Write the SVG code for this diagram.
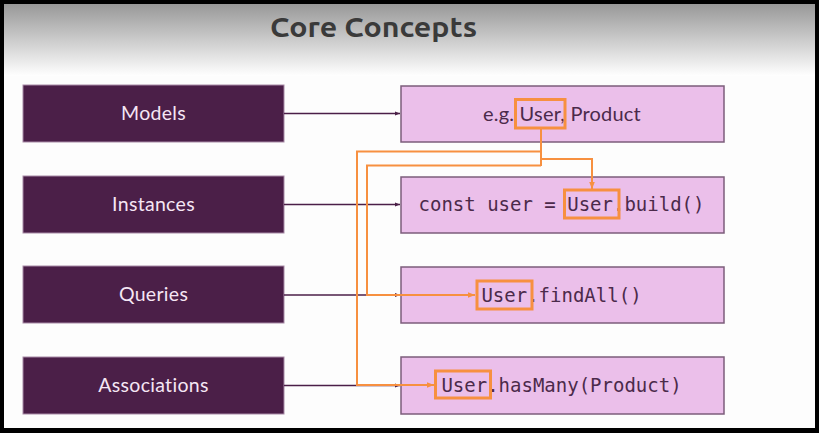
<svg xmlns="http://www.w3.org/2000/svg" width="819" height="433" viewBox="0 0 819 433">
  <defs>
    <linearGradient id="hdr" x1="0" y1="0" x2="0" y2="1">
      <stop offset="0" stop-color="#989898"/>
      <stop offset="1" stop-color="#ffffff"/>
    </linearGradient>
    <marker id="arrD" viewBox="0 0 10 10" refX="10" refY="5" markerWidth="5" markerHeight="5" orient="auto" markerUnits="userSpaceOnUse">
      <path d="M0,1 L10,5 L0,9 z" fill="#4a1f47"/>
    </marker>
    <marker id="arrO" viewBox="0 0 10 10" refX="10" refY="5" markerWidth="7" markerHeight="7" orient="auto" markerUnits="userSpaceOnUse">
      <path d="M0,1 L10,5 L0,9 z" fill="#f79040"/>
    </marker>
    <style>
      .left rect { fill: #4b1f48; stroke: #a88aa6; stroke-width: 1; }
      .left text { fill: #f5e6f4; font-family: Lato, "Open Sans", sans-serif; font-size: 19.5px; letter-spacing: 0.3px; text-anchor: middle; }
      .right rect.box { fill: #ebbfea; stroke: #7c5d7b; stroke-width: 1.5; }
      .right text { fill: #4b2a4a; text-anchor: middle; }
      .code { font-family: "DejaVu Sans Mono", monospace; font-size: 19px; }
      .sans { font-family: Lato, "Open Sans", sans-serif; font-size: 20px; letter-spacing: 0.2px; }
      .hl { fill: none; stroke: #f79040; stroke-width: 3; }
      .dark { fill: none; stroke: #4b1f48; stroke-width: 1.6; marker-end: url(#arrD); }
      .orange { fill: none; stroke: #f79040; stroke-width: 2; }
      .orange.a { marker-end: url(#arrO); }
    </style>
  </defs>

  <rect x="0" y="0" width="819" height="433" fill="#000"/>
  <rect x="4" y="4" width="811" height="424" fill="#fdfdfd"/>
  <rect x="4" y="4" width="811" height="72" fill="url(#hdr)"/>

  <text x="373.5" y="37" font-family="Ubuntu, 'Open Sans', sans-serif" font-weight="bold" font-size="28" fill="#3a3a3a" text-anchor="middle" textLength="207" lengthAdjust="spacingAndGlyphs">Core Concepts</text>

  <g id="models" class="left">
    <rect x="23" y="85" width="261" height="57"/>
    <text x="153.5" y="120">Models</text>
  </g>
  <g id="instances" class="left">
    <rect x="23" y="176" width="261" height="57"/>
    <text x="153.5" y="211">Instances</text>
  </g>
  <g id="queries" class="left">
    <rect x="23" y="266" width="261" height="57"/>
    <text x="153.5" y="301">Queries</text>
  </g>
  <g id="associations" class="left">
    <rect x="23" y="357" width="261" height="57"/>
    <text x="153.5" y="392">Associations</text>
  </g>

  <g id="models-example" class="right">
    <rect class="box" x="401" y="86" width="323" height="56"/>
    <text class="sans" x="562" y="121">e.g. User, Product</text>
  </g>
  <g id="instances-example" class="right">
    <rect class="box" x="401" y="177" width="323" height="56"/>
    <text class="code" x="561.5" y="211">const user = User.build()</text>
  </g>
  <g id="queries-example" class="right">
    <rect class="box" x="401" y="267" width="323" height="56"/>
    <text class="code" x="561.5" y="302">User.findAll()</text>
  </g>
  <g id="associations-example" class="right">
    <rect class="box" x="401" y="357" width="323" height="57"/>
    <text class="code" x="561.5" y="392">User.hasMany(Product)</text>
  </g>

  <g id="connectors">
    <line class="dark" x1="284" y1="113.5" x2="400" y2="113.5"/>
    <line class="dark" x1="284" y1="204.5" x2="400" y2="204.5"/>
    <line class="dark" x1="284" y1="295" x2="400" y2="295"/>
    <line class="dark" x1="284" y1="385.5" x2="400" y2="385.5"/>

    <polyline class="orange" points="541,128 541,166"/>
    <polyline class="orange a" points="541,151.5 357,151.5 357,385 434,385"/>
    <polyline class="orange a" points="541,165.5 367,165.5 367,295 475,295"/>
    <polyline class="orange a" points="541,159 592,159 592,189"/>
  </g>

  <g id="highlights">
    <rect class="hl" x="515.5" y="99.5" width="49.5" height="28.5"/>
    <rect class="hl" x="564.5" y="190" width="54.5" height="28"/>
    <rect class="hl" x="477" y="281" width="55" height="28"/>
    <rect class="hl" x="435.5" y="371" width="55" height="27"/>
  </g>
</svg>
